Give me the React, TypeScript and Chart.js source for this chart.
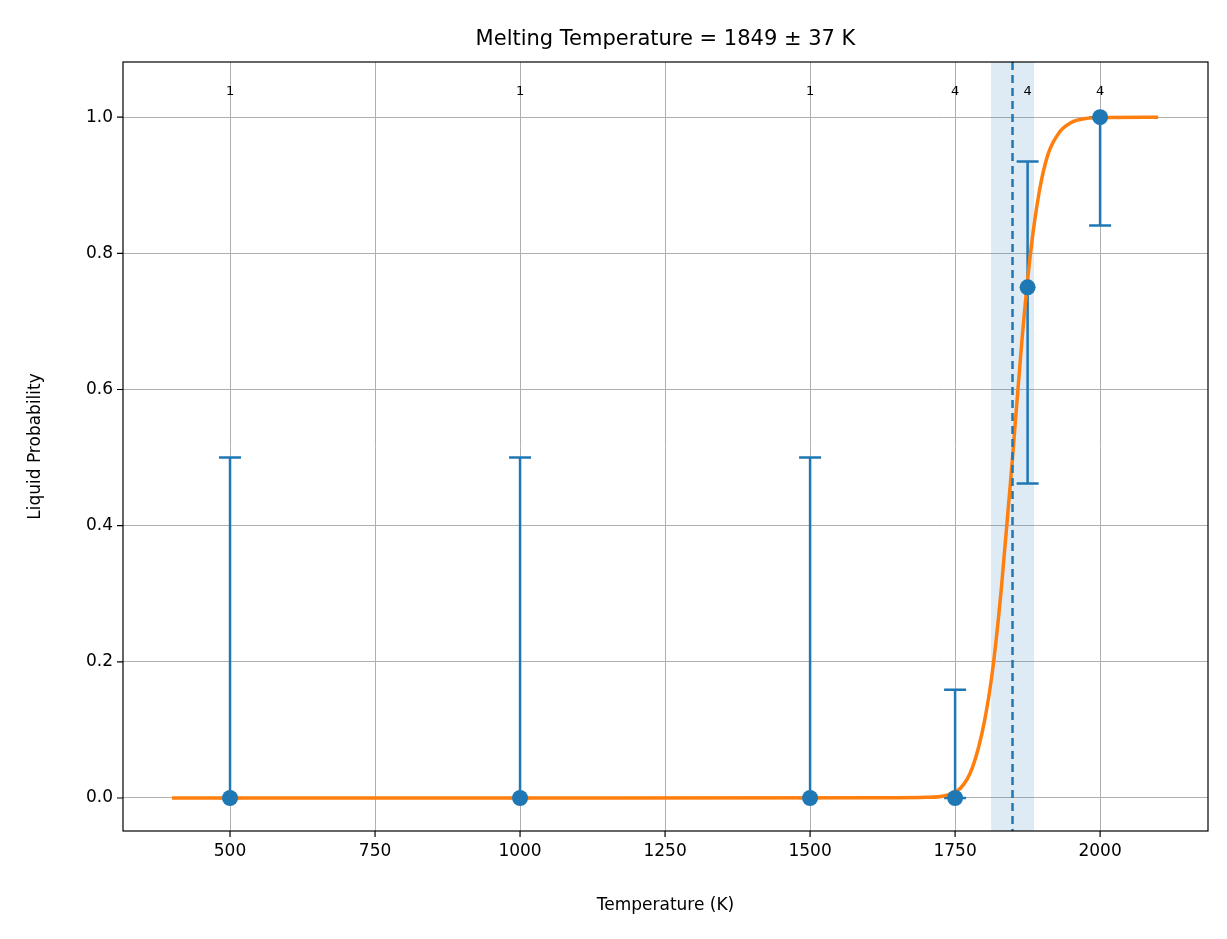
import React, { useEffect, useRef } from "react";
import { Chart, registerables } from "chart.js";
Chart.register(...registerables);

const temps = [500, 1000, 1500, 1750, 1875, 2000];
const probs = [0, 0, 0, 0, 0.75, 1.0];
const errLow = [0, 0, 0, 0, 0.462, 0.841];
const errHigh = [0.5, 0.5, 0.5, 0.159, 0.935, 1.0];
const counts = ["1", "1", "1", "4", "4", "4"];
const fitT = [400, 1000, 1650, 1700, 1730, 1760, 1780, 1800, 1815, 1830, 1849, 1865, 1880, 1895, 1910, 1930, 1950, 1975, 2000, 2100];
const fitP = [0, 0, 0.0005, 0.001, 0.003, 0.015, 0.045, 0.11, 0.19, 0.31, 0.5, 0.67, 0.8, 0.89, 0.945, 0.978, 0.992, 0.998, 0.9995, 1.0];
const melt = 1849;
const meltErr = 37;
const xTicks = [500, 750, 1000, 1250, 1500, 1750, 2000];
const yTicks = [0, 0.2, 0.4, 0.6, 0.8, 1.0];

const FONT = "DejaVu Sans";

const overlay = {
  id: "overlay",
  beforeDatasetsDraw(c: any) {
    const { ctx, chartArea: a, scales } = c;
    const x = scales.x, y = scales.y;
    ctx.save();
    ctx.fillStyle = "rgba(31,119,180,0.15)";
    const x0 = x.getPixelForValue(melt - meltErr), x1 = x.getPixelForValue(melt + meltErr);
    ctx.fillRect(x0, a.top, x1 - x0, a.bottom - a.top);
    ctx.strokeStyle = "#1f77b4";
    ctx.lineWidth = 2.5;
    temps.forEach((t, i) => {
      const px = x.getPixelForValue(t);
      const lo = y.getPixelForValue(errLow[i]), hi = y.getPixelForValue(errHigh[i]);
      ctx.beginPath();
      ctx.moveTo(px, lo); ctx.lineTo(px, hi);
      ctx.moveTo(px - 11, lo); ctx.lineTo(px + 11, lo);
      ctx.moveTo(px - 11, hi); ctx.lineTo(px + 11, hi);
      ctx.stroke();
    });
    ctx.restore();
  },
  afterDatasetsDraw(c: any) {
    const { ctx, chartArea: a, scales } = c;
    const x = scales.x, y = scales.y;
    ctx.save();
    ctx.strokeStyle = "#1f77b4";
    ctx.lineWidth = 2.5;
    ctx.setLineDash([8, 5]);
    const mx = x.getPixelForValue(melt);
    ctx.beginPath(); ctx.moveTo(mx, a.top); ctx.lineTo(mx, a.bottom); ctx.stroke();
    ctx.setLineDash([]);
    ctx.fillStyle = "#1f77b4";
    temps.forEach((t, i) => {
      ctx.beginPath();
      ctx.arc(x.getPixelForValue(t), y.getPixelForValue(probs[i]), 8, 0, Math.PI * 2);
      ctx.fill();
    });
    ctx.fillStyle = "#000";
    ctx.font = `13px ${FONT}`;
    ctx.textAlign = "center";
    ctx.textBaseline = "middle";
    temps.forEach((t, i) => ctx.fillText(counts[i], x.getPixelForValue(t), y.getPixelForValue(1.037)));
    // frame and tick marks
    ctx.strokeStyle = "#000";
    ctx.lineWidth = 1.2;
    ctx.strokeRect(a.left, a.top, a.right - a.left, a.bottom - a.top);
    ctx.beginPath();
    xTicks.forEach((v) => { const p = x.getPixelForValue(v); ctx.moveTo(p, a.bottom); ctx.lineTo(p, a.bottom + 6); });
    yTicks.forEach((v) => { const p = y.getPixelForValue(v); ctx.moveTo(a.left, p); ctx.lineTo(a.left - 6, p); });
    ctx.stroke();
    ctx.font = `21px ${FONT}`;
    ctx.textBaseline = "alphabetic";
    ctx.fillText("Melting Temperature = 1849 ± 37 K", (a.left + a.right) / 2, 45);
    ctx.font = `17px ${FONT}`;
    ctx.fillText("Temperature (K)", (a.left + a.right) / 2, 910);
    ctx.translate(40, (a.top + a.bottom) / 2);
    ctx.rotate(-Math.PI / 2);
    ctx.fillText("Liquid Probability", 0, 0);
    ctx.restore();
  },
};

export default function App() {
  const ref = useRef<HTMLCanvasElement>(null);
  useEffect(() => {
    document.body.style.margin = "0";
    const chart = new Chart(ref.current!, {
      type: "line",
      data: {
        datasets: [
          {
            data: fitT.map((t, i) => ({ x: t, y: fitP[i] })),
            borderColor: "#ff7f0e",
            borderWidth: 3.5,
            pointRadius: 0,
            cubicInterpolationMode: "monotone",
          },
        ],
      },
      options: {
        responsive: false,
        animation: false,
        layout: { padding: { left: 0, right: 19, top: 62, bottom: 0 } },
        plugins: { legend: { display: false }, tooltip: { enabled: false } },
        scales: {
          x: {
            type: "linear",
            min: 315.5,
            max: 2186,
            afterBuildTicks: (s: any) => { s.ticks = xTicks.map((v) => ({ value: v })); },
            afterFit: (s: any) => { s.height = 108; },
            grid: { color: "#b0b0b0", drawTicks: false },
            border: { display: false },
            ticks: { color: "#000", font: { family: FONT, size: 17 }, padding: 10, maxRotation: 0, callback: (v: any) => String(v) },
          },
          y: {
            min: -0.0485,
            max: 1.081,
            afterBuildTicks: (s: any) => { s.ticks = yTicks.map((v) => ({ value: v })); },
            afterFit: (s: any) => { s.width = 123; },
            grid: { color: "#b0b0b0", drawTicks: false },
            border: { display: false },
            ticks: { color: "#000", font: { family: FONT, size: 17 }, padding: 10, callback: (v: any) => Number(v).toFixed(1) },
          },
        },
      },
      plugins: [overlay],
    } as any);
    return () => chart.destroy();
  }, []);
  return <canvas ref={ref} width={1227} height={939} style={{ display: "block" }} />;
}
